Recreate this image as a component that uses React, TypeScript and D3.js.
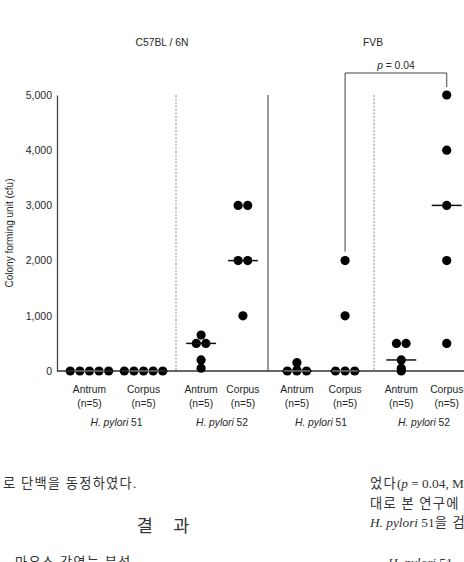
import { useEffect, useRef } from "react";
import * as d3 from "d3";

// strains, isolates and tissues shown on the x axis
const strains = ["C57BL / 6N", "FVB"];
const isolates = ["51", "52"];
const tissues = ["Antrum", "Corpus"];
const sampleSize = 5;

// colony forming units per mouse
const c57Hp51Antrum = [0, 0, 0, 0, 0];
const c57Hp51Corpus = [0, 0, 0, 0, 0];
const c57Hp52Antrum = [650, 500, 500, 200, 50];
const c57Hp52Corpus = [3000, 3000, 2000, 2000, 1000];
const fvbHp51Antrum = [150, 20, 0, 0, 0];
const fvbHp51Corpus = [2000, 1000, 0, 0, 0];
const fvbHp52Antrum = [500, 500, 200, 50, 0];
const fvbHp52Corpus = [5000, 4000, 3000, 2000, 500];

const yTicks = [0, 1000, 2000, 3000, 4000, 5000];
const pValueLabel = "0.04";

const groups = [
  { strain: strains[0], isolate: isolates[0], tissue: tissues[0], values: c57Hp51Antrum },
  { strain: strains[0], isolate: isolates[0], tissue: tissues[1], values: c57Hp51Corpus },
  { strain: strains[0], isolate: isolates[1], tissue: tissues[0], values: c57Hp52Antrum },
  { strain: strains[0], isolate: isolates[1], tissue: tissues[1], values: c57Hp52Corpus },
  { strain: strains[1], isolate: isolates[0], tissue: tissues[0], values: fvbHp51Antrum },
  { strain: strains[1], isolate: isolates[0], tissue: tissues[1], values: fvbHp51Corpus },
  { strain: strains[1], isolate: isolates[1], tissue: tissues[0], values: fvbHp52Antrum },
  { strain: strains[1], isolate: isolates[1], tissue: tissues[1], values: fvbHp52Corpus },
];

const width = 464;
const height = 562;

const drawChart = (svgEl: SVGSVGElement) => {
  const svg = d3.select(svgEl);
  svg.selectAll("*").remove();

  const ink = "#262626";
  const font = "Liberation Sans, Arial, sans-serif";
  const r = 4.6;
  const dotGap = 9.6;

  const y = d3.scaleLinear().domain([0, 5000]).range([371, 95]);

  // panel edges: [left, divider, right] per strain
  const panelEdges: Record<string, number[]> = {
    [strains[0]]: [57, 176, 268],
    [strains[1]]: [268, 374, 474],
  };

  const xScale = (strain: string, isolate: string) => {
    const e = panelEdges[strain];
    const i = isolates.indexOf(isolate);
    return d3.scalePoint().domain(tissues).range([e[i], e[i + 1]]).padding(0.6);
  };
  const xOf = (g: any) => xScale(g.strain, g.isolate)(g.tissue) as number;

  // dividers
  strains.forEach((s) => {
    const e = panelEdges[s];
    svg.append("line")
      .attr("x1", e[1]).attr("x2", e[1])
      .attr("y1", y(5000)).attr("y2", y(0))
      .attr("stroke", "#8a8a8a")
      .attr("stroke-width", 1)
      .attr("stroke-dasharray", "2,1.5");
  });
  svg.append("line")
    .attr("x1", panelEdges[strains[1]][0]).attr("x2", panelEdges[strains[1]][0])
    .attr("y1", y(5000)).attr("y2", y(0))
    .attr("stroke", "#555").attr("stroke-width", 1.2);

  // y axis
  const yAxis = svg.append("g")
    .attr("transform", `translate(${panelEdges[strains[0]][0]},0)`)
    .call(d3.axisLeft(y).tickValues(yTicks).tickFormat(d3.format(",")).tickSize(0).tickPadding(5));
  yAxis.select(".domain").attr("stroke", "#444").attr("stroke-width", 1.3);
  yAxis.selectAll("text")
    .attr("font-family", font)
    .attr("font-size", 10.5)
    .attr("fill", ink);

  svg.append("text")
    .attr("transform", `translate(13,233) rotate(-90)`)
    .attr("text-anchor", "middle")
    .attr("font-family", font)
    .attr("font-size", 10)
    .attr("fill", ink)
    .text("Colony forming unit (cfu)");

  // x baseline
  svg.append("line")
    .attr("x1", panelEdges[strains[0]][0]).attr("x2", width)
    .attr("y1", y(0)).attr("y2", y(0))
    .attr("stroke", "#333").attr("stroke-width", 1.3);

  // dots: equal values spread sideways
  groups.forEach((g) => {
    const cx = xOf(g);
    const byValue = d3.group(g.values, (v) => v);
    byValue.forEach((vals, v) => {
      const n = vals.length;
      vals.forEach((_, i) => {
        svg.append("circle")
          .attr("cx", cx + (i - (n - 1) / 2) * dotGap)
          .attr("cy", y(v))
          .attr("r", r)
          .attr("fill", "#000");
      });
      if (v === 0 && n > 1) {
        svg.append("line")
          .attr("x1", cx - ((n - 1) / 2) * dotGap - r + 1)
          .attr("x2", cx + ((n - 1) / 2) * dotGap + r - 1)
          .attr("y1", y(0)).attr("y2", y(0))
          .attr("stroke", "#d8d8d8").attr("stroke-width", 0.8);
      }
    });
    const med = d3.median(g.values) as number;
    if (med > 0) {
      svg.append("line")
        .attr("x1", cx - 15).attr("x2", cx + 15)
        .attr("y1", y(med)).attr("y2", y(med))
        .attr("stroke", "#111").attr("stroke-width", 1.5);
    } else {
      const zeros = g.values.filter((v) => v === 0).length;
      const half = ((zeros - 1) / 2) * dotGap + r;
      [[-15, -half], [half, 15]].forEach(([a, b]) => {
        svg.append("line")
          .attr("x1", cx + a).attr("x2", cx + b)
          .attr("y1", y(0)).attr("y2", y(0))
          .attr("stroke", "#111").attr("stroke-width", 1.5);
      });
    }
  });

  // strain titles
  strains.forEach((s) => {
    const cx = s === strains[0] ? 162 : 373;
    svg.append("text")
      .attr("x", cx).attr("y", 46)
      .attr("text-anchor", "middle")
      .attr("font-family", font).attr("font-size", 10.3)
      .attr("fill", ink)
      .text(s);
  });

  // tissue labels
  groups.forEach((g) => {
    const cx = xOf(g);
    svg.append("text")
      .attr("x", cx).attr("y", 393)
      .attr("text-anchor", "middle")
      .attr("font-family", font).attr("font-size", 10.3)
      .attr("fill", ink)
      .text(g.tissue);
    svg.append("text")
      .attr("x", cx).attr("y", 407)
      .attr("text-anchor", "middle")
      .attr("font-family", font).attr("font-size", 10.3)
      .attr("fill", ink)
      .text(`(n=${sampleSize})`);
  });

  // isolate labels
  strains.forEach((s) => {
    isolates.forEach((iso) => {
      const sc = xScale(s, iso);
      const cx = d3.mean(tissues, (t) => sc(t) as number) as number;
      const t = svg.append("text")
        .attr("x", cx).attr("y", 426)
        .attr("text-anchor", "middle")
        .attr("font-family", font).attr("font-size", 10.3)
        .attr("fill", ink);
      t.append("tspan").attr("font-style", "italic").text("H. pylori");
      t.append("tspan").text(` ${iso}`);
    });
  });

  // significance bracket between FVB corpus groups
  const gA = groups[5];
  const gB = groups[7];
  const xa = xOf(gA);
  const xb = xOf(gB);
  const by = 73;
  svg.append("path")
    .attr("d", `M${xa},${y(d3.max(gA.values) as number) - 9}V${by}H${xb}V${y(d3.max(gB.values) as number) - 8}`)
    .attr("fill", "none")
    .attr("stroke", "#444")
    .attr("stroke-width", 1);
  const pt = svg.append("text")
    .attr("x", (xa + xb) / 2).attr("y", 69)
    .attr("text-anchor", "middle")
    .attr("font-family", font).attr("font-size", 10.3)
    .attr("fill", ink);
  pt.append("tspan").attr("font-style", "italic").text("p");
  pt.append("tspan").text(` = ${pValueLabel}`);

  // surrounding page text
  const serif = "Liberation Serif, Noto Sans CJK KR, serif";
  const body = (x: number, yy: number, parts: [string, boolean, number][], size = 13.3) => {
    const t = svg.append("text")
      .attr("x", x).attr("y", yy)
      .attr("font-family", serif).attr("font-size", size)
      .attr("fill", "#333");
    parts.forEach(([s, it, ls]) =>
      t.append("tspan")
        .attr("font-style", it ? "italic" : "normal")
        .attr("letter-spacing", ls)
        .text(s));
    return t;
  };
  body(3, 488, [["로 단백을 동정하였다.", false, 1.2]]);
  body(167, 532, [["결 과", false, 8]], 17.5).attr("text-anchor", "middle");
  body(15, 567, [["마우스 감염능 분석", false, 1.2]]);
  body(370, 488, [["었다", false, 1.2], ["(", false, 0], ["p", true, 0], [" = 0.04, M", false, 0]]);
  body(370, 508, [["대로 본 연구에", false, 1.2]]);
  body(370, 527, [["H. pylori", true, 0], [" 51", false, 0], ["을 검", false, 1.2]]);
  body(388, 567, [["H. pylori", true, 0], [" 51", false, 0]]);
};

export default function App() {
  const ref = useRef<SVGSVGElement>(null);
  useEffect(() => {
    if (ref.current) drawChart(ref.current);
  }, []);
  return (
    <svg
      ref={ref}
      width={width}
      height={height}
      viewBox={`0 0 ${width} ${height}`}
      style={{ position: "absolute", left: 0, top: 0, background: "#fff" }}
    />
  );
}
